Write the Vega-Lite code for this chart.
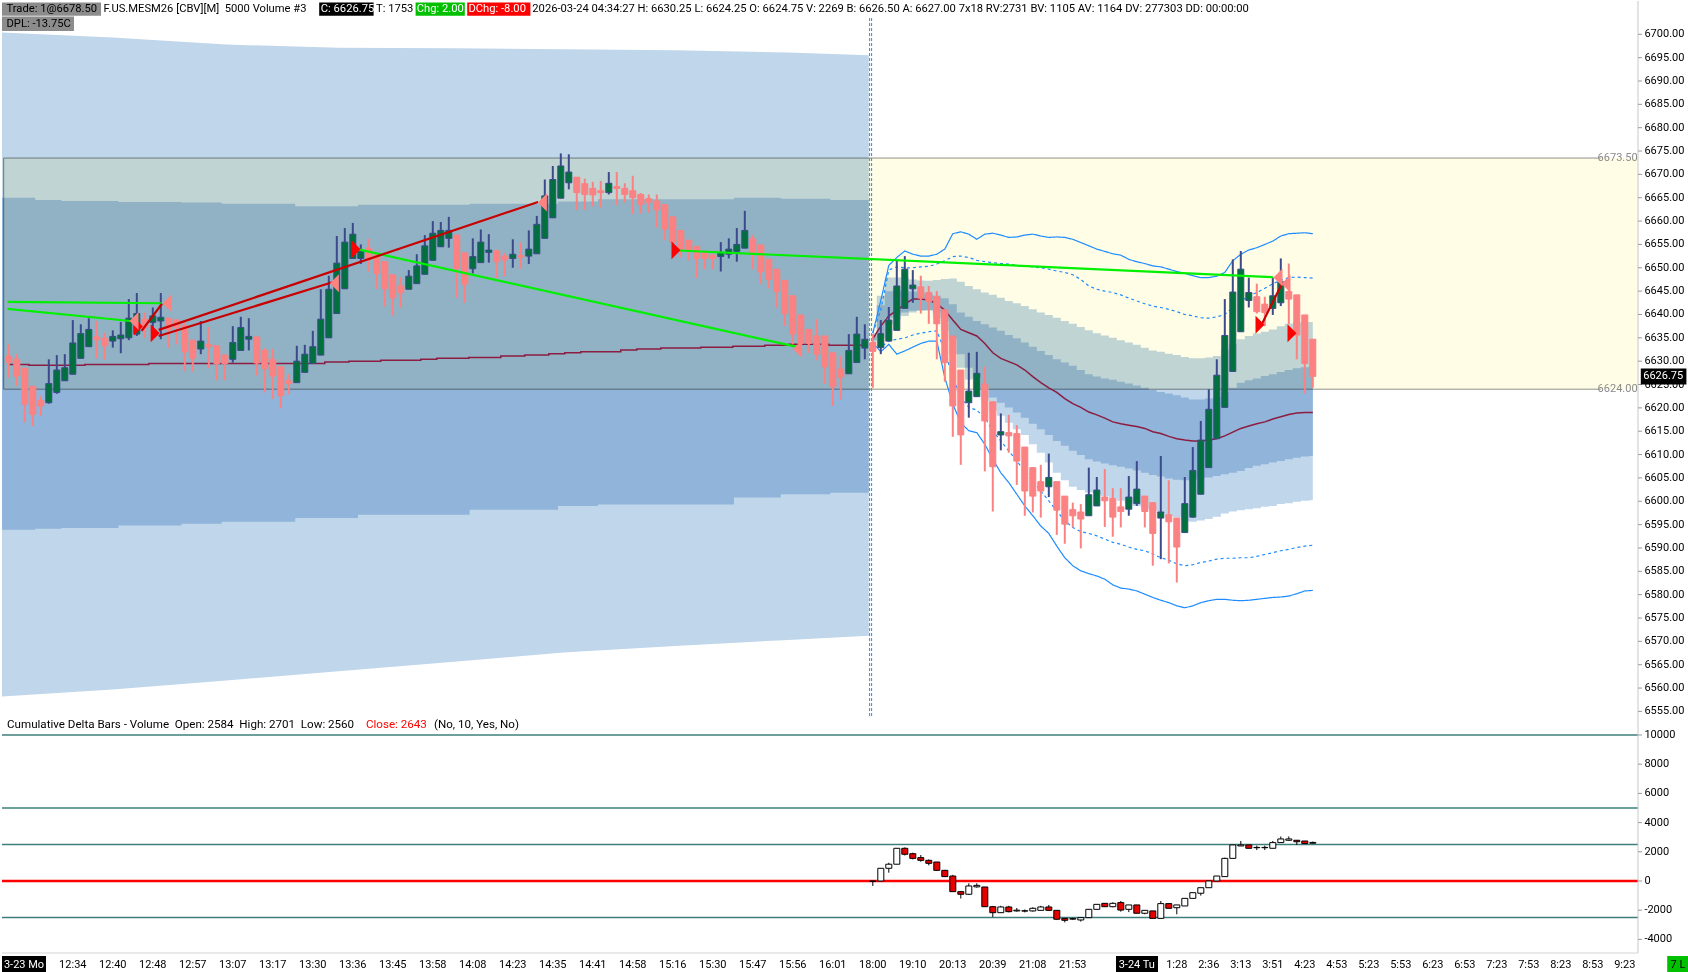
{
  "$schema": "https://vega.github.io/schema/vega-lite/v6.json",
  "background": "white",
  "padding": 0,
  "spacing": 0,
  "bounds": "flush",
  "config": {
    "view": {"stroke": null},
    "scale": {"continuousPadding": 0},
    "text": {"font": "Roboto", "fontSize": 11}
  },
  "datasets": {
    "bars": [
      {"i":0,"o":6631.1,"h":6633.6,"l":6626.5,"c":6629.7,"vw":6629.3},
      {"i":1,"o":6630.4,"h":6631.5,"l":6624.7,"c":6626.8,"vw":6629.3},
      {"i":2,"o":6628.5,"h":6628.6,"l":6616.9,"c":6620.8,"vw":6629.3},
      {"i":3,"o":6624.6,"h":6624.7,"l":6616.1,"c":6618.6,"vw":6629.1},
      {"i":4,"o":6621.6,"h":6622.6,"l":6618.3,"c":6620.4,"vw":6629.1},
      {"i":5,"o":6621.1,"h":6630.4,"l":6620.9,"c":6625.2,"vw":6629.1},
      {"i":6,"o":6623.3,"h":6631.3,"l":6623.0,"c":6628.1,"vw":6629.1},
      {"i":7,"o":6625.8,"h":6631.5,"l":6625.8,"c":6628.6,"vw":6629.1},
      {"i":8,"o":6627.2,"h":6638.8,"l":6627.2,"c":6633.9,"vw":6629.1},
      {"i":9,"o":6630.6,"h":6637.9,"l":6630.6,"c":6635.9,"vw":6629.1},
      {"i":10,"o":6633.1,"h":6639.2,"l":6633.1,"c":6636.8,"vw":6629.3},
      {"i":11,"o":6635.2,"h":6638.6,"l":6630.6,"c":6634.6,"vw":6629.3},
      {"i":12,"o":6634.9,"h":6636.1,"l":6630.3,"c":6633.3,"vw":6629.3},
      {"i":13,"o":6634.3,"h":6636.6,"l":6632.9,"c":6635.3,"vw":6629.3},
      {"i":14,"o":6634.8,"h":6638.4,"l":6631.7,"c":6635.6,"vw":6629.3},
      {"i":15,"o":6635.0,"h":6643.3,"l":6634.5,"c":6639.2,"vw":6629.3},
      {"i":16,"o":6635.8,"h":6644.6,"l":6635.4,"c":6640.2,"vw":6629.3},
      {"i":17,"o":6639.0,"h":6640.4,"l":6635.0,"c":6637.2,"vw":6629.3},
      {"i":18,"o":6638.3,"h":6641.5,"l":6635.8,"c":6639.7,"vw":6629.5},
      {"i":19,"o":6638.6,"h":6644.6,"l":6634.7,"c":6639.4,"vw":6629.5},
      {"i":20,"o":6639.2,"h":6639.3,"l":6632.9,"c":6636.8,"vw":6629.5},
      {"i":21,"o":6638.8,"h":6639.0,"l":6633.6,"c":6637.2,"vw":6629.5},
      {"i":22,"o":6637.6,"h":6638.6,"l":6627.9,"c":6632.0,"vw":6629.5},
      {"i":23,"o":6634.5,"h":6634.5,"l":6627.8,"c":6630.6,"vw":6629.5},
      {"i":24,"o":6632.6,"h":6638.6,"l":6631.5,"c":6634.3,"vw":6629.5},
      {"i":25,"o":6633.6,"h":6637.3,"l":6628.5,"c":6633.1,"vw":6629.5},
      {"i":26,"o":6633.3,"h":6633.3,"l":6625.9,"c":6629.5,"vw":6629.5},
      {"i":27,"o":6631.3,"h":6631.5,"l":6625.9,"c":6629.5,"vw":6629.5},
      {"i":28,"o":6630.4,"h":6637.5,"l":6629.7,"c":6634.0,"vw":6629.5},
      {"i":29,"o":6632.3,"h":6639.5,"l":6632.3,"c":6637.2,"vw":6629.5},
      {"i":30,"o":6634.7,"h":6639.2,"l":6632.3,"c":6635.3,"vw":6629.5},
      {"i":31,"o":6635.2,"h":6635.2,"l":6626.9,"c":6629.6,"vw":6629.5},
      {"i":32,"o":6632.3,"h":6632.8,"l":6623.3,"c":6628.4,"vw":6629.5},
      {"i":33,"o":6630.4,"h":6632.6,"l":6621.9,"c":6626.8,"vw":6629.5},
      {"i":34,"o":6628.8,"h":6628.8,"l":6619.9,"c":6622.6,"vw":6629.5},
      {"i":35,"o":6625.8,"h":6627.2,"l":6622.9,"c":6625.2,"vw":6629.5},
      {"i":36,"o":6625.4,"h":6633.3,"l":6625.4,"c":6630.0,"vw":6629.5},
      {"i":37,"o":6627.6,"h":6633.5,"l":6627.6,"c":6631.5,"vw":6629.5},
      {"i":38,"o":6629.5,"h":6636.5,"l":6629.5,"c":6633.1,"vw":6629.5},
      {"i":39,"o":6631.3,"h":6645.4,"l":6631.3,"c":6639.0,"vw":6629.5},
      {"i":40,"o":6635.0,"h":6648.3,"l":6635.0,"c":6645.4,"vw":6629.8},
      {"i":41,"o":6640.2,"h":6656.8,"l":6640.2,"c":6651.0,"vw":6629.8},
      {"i":42,"o":6645.5,"h":6658.5,"l":6645.5,"c":6655.5,"vw":6629.8},
      {"i":43,"o":6652.0,"h":6659.6,"l":6652.0,"c":6657.2,"vw":6630.0},
      {"i":44,"o":6652.0,"h":6655.0,"l":6650.8,"c":6653.5,"vw":6630.0},
      {"i":45,"o":6654.2,"h":6656.2,"l":6649.2,"c":6651.8,"vw":6630.0},
      {"i":46,"o":6652.9,"h":6652.9,"l":6645.5,"c":6648.8,"vw":6630.0},
      {"i":47,"o":6651.3,"h":6651.3,"l":6641.7,"c":6645.5,"vw":6630.2},
      {"i":48,"o":6648.5,"h":6648.5,"l":6639.8,"c":6643.6,"vw":6630.2},
      {"i":49,"o":6646.1,"h":6648.0,"l":6641.5,"c":6644.7,"vw":6630.2},
      {"i":50,"o":6645.4,"h":6649.5,"l":6645.4,"c":6648.2,"vw":6630.2},
      {"i":51,"o":6646.6,"h":6652.9,"l":6646.6,"c":6650.4,"vw":6630.2},
      {"i":52,"o":6648.6,"h":6657.0,"l":6648.6,"c":6654.7,"vw":6630.4},
      {"i":53,"o":6651.6,"h":6660.0,"l":6651.6,"c":6657.4,"vw":6630.4},
      {"i":54,"o":6654.5,"h":6659.8,"l":6654.5,"c":6658.0,"vw":6630.6},
      {"i":55,"o":6656.3,"h":6660.9,"l":6654.3,"c":6658.0,"vw":6630.6},
      {"i":56,"o":6657.0,"h":6657.0,"l":6643.6,"c":6649.8,"vw":6630.6},
      {"i":57,"o":6653.2,"h":6653.2,"l":6642.5,"c":6646.5,"vw":6630.6},
      {"i":58,"o":6649.8,"h":6656.3,"l":6648.8,"c":6652.4,"vw":6630.8},
      {"i":59,"o":6651.1,"h":6658.2,"l":6651.1,"c":6655.5,"vw":6630.8},
      {"i":60,"o":6653.3,"h":6657.2,"l":6651.1,"c":6653.8,"vw":6630.8},
      {"i":61,"o":6653.6,"h":6653.9,"l":6647.8,"c":6651.3,"vw":6630.8},
      {"i":62,"o":6652.5,"h":6653.2,"l":6648.2,"c":6651.7,"vw":6631.1},
      {"i":63,"o":6652.0,"h":6656.1,"l":6650.0,"c":6652.9,"vw":6631.1},
      {"i":64,"o":6652.6,"h":6655.4,"l":6649.8,"c":6652.3,"vw":6631.1},
      {"i":65,"o":6652.5,"h":6658.0,"l":6650.8,"c":6654.0,"vw":6631.3},
      {"i":66,"o":6653.0,"h":6661.1,"l":6653.0,"c":6659.3,"vw":6631.3},
      {"i":67,"o":6656.3,"h":6668.9,"l":6656.3,"c":6665.4,"vw":6631.3},
      {"i":68,"o":6660.7,"h":6671.8,"l":6660.7,"c":6668.9,"vw":6631.6},
      {"i":69,"o":6664.9,"h":6674.5,"l":6664.9,"c":6671.8,"vw":6631.6},
      {"i":70,"o":6668.2,"h":6674.3,"l":6666.8,"c":6670.5,"vw":6631.8},
      {"i":71,"o":6669.4,"h":6669.4,"l":6662.4,"c":6666.1,"vw":6631.8},
      {"i":72,"o":6668.0,"h":6669.1,"l":6662.4,"c":6665.7,"vw":6632.0},
      {"i":73,"o":6667.0,"h":6668.4,"l":6663.1,"c":6665.6,"vw":6632.0},
      {"i":74,"o":6666.5,"h":6668.6,"l":6662.9,"c":6666.1,"vw":6632.0},
      {"i":75,"o":6666.1,"h":6670.5,"l":6665.7,"c":6668.1,"vw":6632.0},
      {"i":76,"o":6667.4,"h":6670.5,"l":6663.4,"c":6667.0,"vw":6632.0},
      {"i":77,"o":6667.0,"h":6668.1,"l":6664.0,"c":6665.7,"vw":6632.4},
      {"i":78,"o":6666.5,"h":6669.7,"l":6661.5,"c":6665.0,"vw":6632.4},
      {"i":79,"o":6665.7,"h":6666.0,"l":6661.6,"c":6663.6,"vw":6632.6},
      {"i":80,"o":6664.8,"h":6665.7,"l":6661.8,"c":6664.0,"vw":6632.6},
      {"i":81,"o":6664.3,"h":6665.7,"l":6658.6,"c":6662.4,"vw":6632.6},
      {"i":82,"o":6663.5,"h":6663.5,"l":6655.9,"c":6658.3,"vw":6632.8},
      {"i":83,"o":6660.9,"h":6660.9,"l":6652.5,"c":6655.4,"vw":6632.8},
      {"i":84,"o":6658.0,"h":6658.0,"l":6652.2,"c":6653.7,"vw":6632.8},
      {"i":85,"o":6655.9,"h":6655.9,"l":6651.6,"c":6653.7,"vw":6632.8},
      {"i":86,"o":6654.6,"h":6654.6,"l":6647.8,"c":6652.0,"vw":6632.8},
      {"i":87,"o":6653.2,"h":6653.2,"l":6649.7,"c":6652.0,"vw":6633.0},
      {"i":88,"o":6652.7,"h":6653.0,"l":6649.7,"c":6652.0,"vw":6633.0},
      {"i":89,"o":6652.4,"h":6655.5,"l":6649.2,"c":6653.2,"vw":6633.0},
      {"i":90,"o":6652.9,"h":6656.3,"l":6652.0,"c":6654.0,"vw":6633.0},
      {"i":91,"o":6653.5,"h":6658.5,"l":6651.3,"c":6655.0,"vw":6633.2},
      {"i":92,"o":6654.2,"h":6662.2,"l":6654.2,"c":6658.0,"vw":6633.2},
      {"i":93,"o":6656.2,"h":6657.0,"l":6649.7,"c":6653.2,"vw":6633.2},
      {"i":94,"o":6654.9,"h":6654.9,"l":6646.6,"c":6649.1,"vw":6633.2},
      {"i":95,"o":6651.8,"h":6651.8,"l":6645.6,"c":6647.5,"vw":6633.4},
      {"i":96,"o":6649.7,"h":6649.7,"l":6641.5,"c":6644.9,"vw":6633.4},
      {"i":97,"o":6647.3,"h":6647.3,"l":6637.5,"c":6640.2,"vw":6633.4},
      {"i":98,"o":6644.0,"h":6644.0,"l":6633.6,"c":6635.8,"vw":6633.6},
      {"i":99,"o":6639.9,"h":6639.9,"l":6632.2,"c":6633.8,"vw":6633.6},
      {"i":100,"o":6636.8,"h":6636.8,"l":6631.8,"c":6633.8,"vw":6633.6},
      {"i":101,"o":6635.4,"h":6639.0,"l":6630.2,"c":6631.5,"vw":6633.6},
      {"i":102,"o":6635.4,"h":6635.4,"l":6625.1,"c":6628.8,"vw":6633.6},
      {"i":103,"o":6631.8,"h":6631.8,"l":6620.4,"c":6624.5,"vw":6633.4},
      {"i":104,"o":6628.3,"h":6631.1,"l":6621.8,"c":6626.6,"vw":6633.4},
      {"i":105,"o":6627.3,"h":6635.8,"l":6627.3,"c":6632.3,"vw":6633.4},
      {"i":106,"o":6629.7,"h":6639.5,"l":6629.7,"c":6635.8,"vw":6633.4},
      {"i":107,"o":6632.8,"h":6637.9,"l":6630.4,"c":6634.7,"vw":6633.4},
      {"i":108,"o":6634.0,"h":6635.8,"l":6624.3,"c":6632.1,"vw":6634.8,"u2":6636,"u1":6636,"l1":6634,"l2":6634,"lbu":6636,"lbl":6634,"mbu":6635.5,"mbl":6634.5,"dop":0,"dhi":0,"dlo":-340,"dcl":-30},
      {"i":109,"o":6632.9,"h":6638.8,"l":6631.5,"c":6635.9,"vw":6637.5,"u2":6643,"u1":6641,"l1":6633,"l2":6632,"lbu":6644,"lbl":6635,"mbu":6642,"mbl":6636,"dop":0,"dhi":870,"dlo":0,"dcl":870},
      {"i":110,"o":6634.3,"h":6641.6,"l":6634.3,"c":6638.8,"vw":6639.7,"u2":6650.5,"u1":6649.5,"l1":6634.3,"l2":6633.6,"lbu":6647.9,"lbl":6637.9,"mbu":6645.0,"mbl":6639.3,"dop":870,"dhi":1250,"dlo":570,"dcl":1150},
      {"i":111,"o":6636.6,"h":6651.5,"l":6636.6,"c":6646.1,"vw":6640.9,"u2":6652.2,"u1":6650.2,"l1":6634.7,"l2":6631.5,"lbu":6647.9,"lbl":6639.0,"mbu":6645.2,"mbl":6640.0,"dop":1150,"dhi":2240,"dlo":1150,"dcl":2240},
      {"i":112,"o":6641.3,"h":6652.5,"l":6641.3,"c":6649.7,"vw":6642.2,"u2":6653.6,"u1":6650.0,"l1":6635.0,"l2":6632.2,"lbu":6647.9,"lbl":6639.7,"mbu":6645.0,"mbl":6640.4,"dop":2240,"dhi":2300,"dlo":1750,"dcl":1830},
      {"i":113,"o":6645.5,"h":6649.5,"l":6642.5,"c":6646.3,"vw":6643.3,"u2":6652.9,"u1":6650.0,"l1":6635.6,"l2":6633.0,"lbu":6647.5,"lbl":6640.4,"mbu":6644.9,"mbl":6640.8,"dop":1870,"dhi":1940,"dlo":1480,"dcl":1550},
      {"i":114,"o":6645.9,"h":6648.3,"l":6640.2,"c":6643.5,"vw":6643.3,"u2":6652.5,"u1":6650.2,"l1":6636.0,"l2":6633.8,"lbu":6647.3,"lbl":6640.8,"mbu":6644.7,"mbl":6640.9,"dop":1600,"dhi":1780,"dlo":1320,"dcl":1415},
      {"i":115,"o":6644.7,"h":6646.1,"l":6638.0,"c":6642.8,"vw":6643.1,"u2":6652.5,"u1":6650.3,"l1":6636.3,"l2":6634.3,"lbu":6647.2,"lbl":6640.9,"mbu":6644.3,"mbl":6640.9,"dop":1415,"dhi":1480,"dlo":1070,"dcl":1210},
      {"i":116,"o":6643.8,"h":6645.0,"l":6630.4,"c":6638.0,"vw":6642.3,"u2":6652.9,"u1":6650.8,"l1":6636.5,"l2":6634.3,"lbu":6647.4,"lbl":6639.3,"mbu":6644.0,"mbl":6640.4,"dop":1300,"dhi":1300,"dlo":680,"dcl":730},
      {"i":117,"o":6641.0,"h":6641.0,"l":6625.6,"c":6629.7,"vw":6640.9,"u2":6654.0,"u1":6651.5,"l1":6632.2,"l2":6626.5,"lbu":6647.6,"lbl":6636.5,"mbu":6643.5,"mbl":6638.6,"dop":730,"dhi":760,"dlo":270,"dcl":300},
      {"i":118,"o":6635.4,"h":6635.4,"l":6613.8,"c":6620.4,"vw":6638.8,"u2":6657.3,"u1":6652.4,"l1":6626.5,"l2":6620.8,"lbu":6647.7,"lbl":6631.5,"mbu":6642.2,"mbl":6634.7,"dop":340,"dhi":420,"dlo":-730,"dcl":-730},
      {"i":119,"o":6628.1,"h":6628.1,"l":6607.8,"c":6614.2,"vw":6636.8,"u2":6657.7,"u1":6652.5,"l1":6622.2,"l2":6616.8,"lbu":6647.0,"lbl":6628.6,"mbu":6640.4,"mbl":6631.5,"dop":-730,"dhi":-680,"dlo":-1200,"dcl":-910},
      {"i":120,"o":6621.1,"h":6631.8,"l":6617.9,"c":6623.6,"vw":6636.1,"u2":6657.2,"u1":6652.2,"l1":6620.1,"l2":6615.1,"lbu":6646.1,"lbl":6626.1,"mbu":6639.5,"mbl":6628.6,"dop":-910,"dhi":-160,"dlo":-960,"dcl":-340},
      {"i":121,"o":6622.4,"h":6632.0,"l":6622.4,"c":6627.4,"vw":6635.4,"u2":6656.1,"u1":6651.6,"l1":6619.5,"l2":6614.7,"lbu":6645.4,"lbl":6624.0,"mbu":6638.6,"mbl":6626.5,"dop":-400,"dhi":-160,"dlo":-460,"dcl":-300},
      {"i":122,"o":6625.1,"h":6628.8,"l":6606.4,"c":6617.2,"vw":6633.8,"u2":6657.2,"u1":6651.3,"l1":6617.9,"l2":6612.2,"lbu":6644.7,"lbl":6621.5,"mbu":6637.9,"mbl":6624.3,"dop":-410,"dhi":-410,"dlo":-1760,"dcl":-1760},
      {"i":123,"o":6621.3,"h":6621.3,"l":6597.8,"c":6607.4,"vw":6631.8,"u2":6657.4,"u1":6651.1,"l1":6615.1,"l2":6609.0,"lbu":6644.2,"lbl":6619.4,"mbu":6637.2,"mbl":6622.2,"dop":-1760,"dhi":-1710,"dlo":-2470,"dcl":-2170},
      {"i":124,"o":6614.2,"h":6618.8,"l":6610.9,"c":6614.9,"vw":6630.6,"u2":6657.0,"u1":6650.9,"l1":6612.9,"l2":6606.1,"lbu":6643.6,"lbl":6618.3,"mbu":6636.5,"mbl":6621.1,"dop":-2170,"dhi":-1700,"dlo":-2170,"dcl":-1780},
      {"i":125,"o":6614.7,"h":6618.5,"l":6610.4,"c":6614.0,"vw":6629.9,"u2":6656.5,"u1":6650.8,"l1":6610.8,"l2":6604.0,"lbu":6642.9,"lbl":6616.8,"mbu":6635.6,"mbl":6620.1,"dop":-1780,"dhi":-1700,"dlo":-2150,"dcl":-2100},
      {"i":126,"o":6614.5,"h":6616.3,"l":6603.5,"c":6608.6,"vw":6629.2,"u2":6656.6,"u1":6650.5,"l1":6608.6,"l2":6601.5,"lbu":6642.4,"lbl":6615.4,"mbu":6634.9,"mbl":6619.0,"dop":-2050,"dhi":-1850,"dlo":-2100,"dcl":-2000},
      {"i":127,"o":6611.6,"h":6611.6,"l":6596.9,"c":6602.2,"vw":6628.1,"u2":6657.0,"u1":6650.4,"l1":6606.5,"l2":6599.0,"lbu":6641.8,"lbl":6614.2,"mbu":6634.0,"mbl":6617.9,"dop":-2060,"dhi":-1950,"dlo":-2150,"dcl":-2040},
      {"i":128,"o":6607.2,"h":6607.2,"l":6597.6,"c":6601.1,"vw":6626.7,"u2":6657.2,"u1":6650.2,"l1":6604.4,"l2":6596.9,"lbu":6641.1,"lbl":6612.2,"mbu":6633.1,"mbl":6616.6,"dop":-2050,"dhi":-1800,"dlo":-2100,"dcl":-1870},
      {"i":129,"o":6604.2,"h":6607.8,"l":6596.5,"c":6602.2,"vw":6625.4,"u2":6656.8,"u1":6650.0,"l1":6602.2,"l2":6594.7,"lbu":6640.4,"lbl":6610.4,"mbu":6632.2,"mbl":6615.4,"dop":-2010,"dhi":-1700,"dlo":-2010,"dcl":-1780},
      {"i":130,"o":6603.1,"h":6610.2,"l":6600.9,"c":6605.1,"vw":6624.3,"u2":6656.5,"u1":6649.7,"l1":6600.1,"l2":6593.1,"lbu":6639.9,"lbl":6608.3,"mbu":6631.3,"mbl":6614.2,"dop":-1780,"dhi":-1640,"dlo":-2050,"dcl":-2010},
      {"i":131,"o":6604.2,"h":6604.2,"l":6592.8,"c":6598.1,"vw":6623.3,"u2":6656.6,"u1":6649.3,"l1":6597.9,"l2":6590.4,"lbu":6639.3,"lbl":6606.1,"mbu":6630.4,"mbl":6612.9,"dop":-2010,"dhi":-2010,"dlo":-2650,"dcl":-2620},
      {"i":132,"o":6601.1,"h":6601.1,"l":6590.9,"c":6595.1,"vw":6622.0,"u2":6656.5,"u1":6649.0,"l1":6595.8,"l2":6587.9,"lbu":6638.6,"lbl":6604.5,"mbu":6629.7,"mbl":6611.9,"dop":-2560,"dhi":-2560,"dlo":-2830,"dcl":-2690},
      {"i":133,"o":6598.2,"h":6599.7,"l":6594.4,"c":6596.9,"vw":6620.9,"u2":6656.1,"u1":6648.5,"l1":6594.4,"l2":6586.2,"lbu":6638.0,"lbl":6603.1,"mbu":6629.0,"mbl":6610.8,"dop":-2580,"dhi":-2520,"dlo":-2650,"dcl":-2610},
      {"i":134,"o":6597.7,"h":6599.4,"l":6589.9,"c":6596.2,"vw":6620.1,"u2":6655.4,"u1":6647.5,"l1":6593.5,"l2":6585.1,"lbu":6637.3,"lbl":6602.4,"mbu":6628.1,"mbl":6609.9,"dop":-2670,"dhi":-2510,"dlo":-2780,"dcl":-2510},
      {"i":135,"o":6596.9,"h":6607.2,"l":6596.9,"c":6601.4,"vw":6619.1,"u2":6654.7,"u1":6646.1,"l1":6593.1,"l2":6584.5,"lbu":6636.6,"lbl":6601.9,"mbu":6627.2,"mbl":6609.0,"dop":-2510,"dhi":-1940,"dlo":-2510,"dcl":-1940},
      {"i":136,"o":6599.0,"h":6605.2,"l":6599.0,"c":6602.4,"vw":6618.5,"u2":6654.0,"u1":6645.4,"l1":6592.6,"l2":6584.0,"lbu":6636.0,"lbl":6601.5,"mbu":6626.7,"mbl":6608.5,"dop":-1940,"dhi":-1600,"dlo":-1940,"dcl":-1600},
      {"i":137,"o":6600.9,"h":6606.9,"l":6594.5,"c":6600.1,"vw":6617.8,"u2":6653.5,"u1":6645.0,"l1":6591.9,"l2":6583.3,"lbu":6635.5,"lbl":6601.1,"mbu":6626.3,"mbl":6608.1,"dop":-1530,"dhi":-1530,"dlo":-1780,"dcl":-1760},
      {"i":138,"o":6600.6,"h":6602.8,"l":6592.4,"c":6596.6,"vw":6617.0,"u2":6653.0,"u1":6644.7,"l1":6591.2,"l2":6582.1,"lbu":6635.0,"lbl":6600.6,"mbu":6626.0,"mbl":6607.7,"dop":-1760,"dhi":-1460,"dlo":-1800,"dcl":-1530},
      {"i":139,"o":6598.8,"h":6602.8,"l":6594.4,"c":6597.8,"vw":6616.6,"u2":6652.7,"u1":6644.2,"l1":6590.8,"l2":6581.4,"lbu":6634.5,"lbl":6600.1,"mbu":6625.6,"mbl":6607.4,"dop":-1480,"dhi":-1370,"dlo":-2100,"dcl":-1990},
      {"i":140,"o":6598.3,"h":6605.4,"l":6596.9,"c":6600.9,"vw":6616.3,"u2":6651.8,"u1":6643.5,"l1":6590.2,"l2":6581.2,"lbu":6634.0,"lbl":6599.5,"mbu":6625.2,"mbl":6607.0,"dop":-1940,"dhi":-1640,"dlo":-2130,"dcl":-1640},
      {"i":141,"o":6599.5,"h":6608.6,"l":6599.0,"c":6602.6,"vw":6616.0,"u2":6651.3,"u1":6642.9,"l1":6589.7,"l2":6580.8,"lbu":6633.5,"lbl":6599.0,"mbu":6624.8,"mbl":6606.6,"dop":-1640,"dhi":-1640,"dlo":-2210,"dcl":-2210},
      {"i":142,"o":6601.1,"h":6601.1,"l":6594.4,"c":6597.8,"vw":6615.6,"u2":6650.9,"u1":6642.3,"l1":6589.4,"l2":6580.1,"lbu":6632.9,"lbl":6598.4,"mbu":6624.3,"mbl":6606.1,"dop":-2210,"dhi":-2010,"dlo":-2280,"dcl":-2010},
      {"i":143,"o":6599.7,"h":6599.7,"l":6586.2,"c":6593.1,"vw":6614.9,"u2":6650.4,"u1":6641.8,"l1":6588.7,"l2":6579.4,"lbu":6632.3,"lbl":6597.9,"mbu":6623.8,"mbl":6605.6,"dop":-2050,"dhi":-2050,"dlo":-2560,"dcl":-2560},
      {"i":144,"o":6596.4,"h":6609.7,"l":6587.6,"c":6597.7,"vw":6614.5,"u2":6650.2,"u1":6641.5,"l1":6587.9,"l2":6578.8,"lbu":6632.0,"lbl":6597.5,"mbu":6623.4,"mbl":6605.3,"dop":-2560,"dhi":-1370,"dlo":-2560,"dcl":-1550},
      {"i":145,"o":6597.1,"h":6604.5,"l":6586.7,"c":6595.6,"vw":6613.9,"u2":6649.7,"u1":6641.1,"l1":6587.4,"l2":6578.3,"lbu":6631.6,"lbl":6596.9,"mbu":6623.1,"mbl":6604.9,"dop":-1550,"dhi":-1550,"dlo":-1870,"dcl":-1870},
      {"i":146,"o":6596.4,"h":6596.4,"l":6582.6,"c":6590.2,"vw":6613.4,"u2":6649.2,"u1":6640.6,"l1":6586.6,"l2":6577.6,"lbu":6631.3,"lbl":6596.5,"mbu":6622.7,"mbl":6604.6,"dop":-1830,"dhi":-1640,"dlo":-2280,"dcl":-1640},
      {"i":147,"o":6593.3,"h":6605.2,"l":6593.3,"c":6599.5,"vw":6613.1,"u2":6648.8,"u1":6640.0,"l1":6586.2,"l2":6577.2,"lbu":6630.9,"lbl":6595.8,"mbu":6622.2,"mbl":6604.5,"dop":-1710,"dhi":-1190,"dlo":-1710,"dcl":-1190},
      {"i":148,"o":6596.6,"h":6611.6,"l":6596.5,"c":6606.6,"vw":6612.9,"u2":6648.3,"u1":6639.7,"l1":6586.4,"l2":6577.6,"lbu":6630.6,"lbl":6595.6,"mbu":6621.8,"mbl":6604.5,"dop":-1190,"dhi":-800,"dlo":-1190,"dcl":-800},
      {"i":149,"o":6601.5,"h":6617.2,"l":6601.5,"c":6613.1,"vw":6612.9,"u2":6647.9,"u1":6639.3,"l1":6586.9,"l2":6578.3,"lbu":6630.6,"lbl":6595.9,"mbu":6621.8,"mbl":6604.8,"dop":-840,"dhi":-460,"dlo":-1000,"dcl":-460},
      {"i":150,"o":6607.2,"h":6624.0,"l":6607.2,"c":6619.7,"vw":6613.1,"u2":6647.9,"u1":6639.2,"l1":6587.2,"l2":6578.7,"lbu":6630.8,"lbl":6596.2,"mbu":6622.0,"mbl":6605.1,"dop":-460,"dhi":0,"dlo":-460,"dcl":0},
      {"i":151,"o":6613.4,"h":6630.4,"l":6613.4,"c":6627.0,"vw":6613.4,"u2":6648.2,"u1":6639.5,"l1":6587.6,"l2":6579.0,"lbu":6631.1,"lbl":6596.7,"mbu":6622.3,"mbl":6605.4,"dop":0,"dhi":340,"dlo":0,"dcl":340},
      {"i":152,"o":6620.1,"h":6643.3,"l":6620.1,"c":6635.5,"vw":6614.0,"u2":6649.0,"u1":6640.0,"l1":6587.8,"l2":6579.0,"lbu":6632.5,"lbl":6597.4,"mbu":6623.3,"mbl":6605.8,"dop":300,"dhi":1600,"dlo":300,"dcl":1550},
      {"i":153,"o":6627.8,"h":6651.8,"l":6627.8,"c":6644.8,"vw":6614.8,"u2":6651.5,"u1":6641.5,"l1":6587.8,"l2":6578.8,"lbu":6633.6,"lbl":6597.8,"mbu":6624.3,"mbl":6606.1,"dop":1550,"dhi":2470,"dlo":1550,"dcl":2470},
      {"i":154,"o":6636.3,"h":6653.6,"l":6636.3,"c":6649.7,"vw":6615.6,"u2":6652.9,"u1":6642.8,"l1":6587.9,"l2":6578.7,"lbu":6634.7,"lbl":6598.1,"mbu":6625.4,"mbl":6606.5,"dop":2400,"dhi":2740,"dlo":2400,"dcl":2470},
      {"i":155,"o":6643.0,"h":6647.9,"l":6641.5,"c":6644.7,"vw":6616.1,"u2":6653.8,"u1":6644.0,"l1":6587.9,"l2":6578.8,"lbu":6635.4,"lbl":6598.3,"mbu":6625.9,"mbl":6607.1,"dop":2470,"dhi":2470,"dlo":2240,"dcl":2240},
      {"i":156,"o":6643.8,"h":6646.6,"l":6640.2,"c":6640.6,"vw":6616.6,"u2":6654.3,"u1":6644.7,"l1":6588.2,"l2":6579.0,"lbu":6635.9,"lbl":6598.5,"mbu":6626.3,"mbl":6607.6,"dop":2300,"dhi":2420,"dlo":2120,"dcl":2280},
      {"i":157,"o":6642.2,"h":6643.8,"l":6637.5,"c":6640.4,"vw":6617.0,"u2":6655.0,"u1":6645.6,"l1":6588.6,"l2":6579.2,"lbu":6636.3,"lbl":6598.8,"mbu":6626.8,"mbl":6607.9,"dop":2280,"dhi":2420,"dlo":2120,"dcl":2300},
      {"i":158,"o":6641.3,"h":6647.9,"l":6639.9,"c":6644.0,"vw":6617.6,"u2":6655.7,"u1":6646.6,"l1":6589.0,"l2":6579.4,"lbu":6636.8,"lbl":6599.0,"mbu":6627.2,"mbl":6608.3,"dop":2240,"dhi":2740,"dlo":2240,"dcl":2630},
      {"i":159,"o":6642.5,"h":6652.0,"l":6641.8,"c":6647.0,"vw":6618.1,"u2":6656.8,"u1":6647.3,"l1":6589.4,"l2":6579.5,"lbu":6637.5,"lbl":6599.4,"mbu":6627.7,"mbl":6608.6,"dop":2630,"dhi":3050,"dlo":2630,"dcl":2880},
      {"i":160,"o":6644.9,"h":6650.9,"l":6637.9,"c":6643.3,"vw":6618.6,"u2":6657.3,"u1":6647.9,"l1":6589.7,"l2":6579.7,"lbu":6638.0,"lbl":6599.6,"mbu":6628.1,"mbl":6609.0,"dop":2790,"dhi":3050,"dlo":2740,"dcl":2880},
      {"i":161,"o":6644.2,"h":6644.2,"l":6630.4,"c":6635.6,"vw":6618.9,"u2":6657.4,"u1":6648.0,"l1":6590.1,"l2":6580.2,"lbu":6638.3,"lbl":6599.9,"mbu":6628.5,"mbl":6609.3,"dop":2790,"dhi":2790,"dlo":2470,"dcl":2690},
      {"i":162,"o":6639.9,"h":6639.9,"l":6623.1,"c":6629.5,"vw":6619.0,"u2":6657.5,"u1":6647.9,"l1":6590.4,"l2":6580.8,"lbu":6638.4,"lbl":6600.1,"mbu":6628.7,"mbl":6609.6,"dop":2740,"dhi":2740,"dlo":2560,"dcl":2560},
      {"i":163,"o":6634.7,"h":6634.7,"l":6624.3,"c":6626.75,"vw":6619.0,"u2":6657.3,"u1":6647.8,"l1":6590.6,"l2":6580.9,"lbu":6638.4,"lbl":6600.2,"mbu":6628.8,"mbl":6609.7,"dop":2584,"dhi":2701,"dlo":2560,"dcl":2643}
    ],
    "lband": [
      {"i":-0.85,"ou":6700.4,"ol":6558.2},{"i":13,"ou":6699.3,"ol":6559.7},{"i":27.2,"ou":6697.8,"ol":6561.6},
      {"i":41.2,"ou":6697.1,"ol":6563.6},{"i":55.3,"ou":6697.0,"ol":6565.6},{"i":69.3,"ou":6696.8,"ol":6567.6},
      {"i":83.3,"ou":6696.6,"ol":6569.0},{"i":97.4,"ou":6696.1,"ol":6570.3},{"i":107.5,"ou":6695.5,"ol":6571.2}
    ],
    "iband": [
      {"i":-0.85,"iu":6665.0,"il":6593.9},{"i":3.3,"iu":6664.5,"il":6594.1},{"i":6.6,"iu":6664.3,"il":6594.3},
      {"i":13.7,"iu":6664.1,"il":6594.8},{"i":21.6,"iu":6664.0,"il":6595.2},{"i":26.6,"iu":6663.7,"il":6595.6},
      {"i":35.8,"iu":6663.2,"il":6596.4},{"i":43.65,"iu":6663.5,"il":6597.1},{"i":57.6,"iu":6663.7,"il":6598.2},
      {"i":68.65,"iu":6664.2,"il":6599.0},{"i":73.65,"iu":6664.7,"il":6599.3},{"i":90.65,"iu":6665.0,"il":6600.8},
      {"i":96.5,"iu":6664.8,"il":6601.5},{"i":102.7,"iu":6664.5,"il":6601.8},{"i":107.5,"iu":6664.5,"il":6602.1}
    ],
    "seg": [
      {"id":"g1","type":"g","i":-0.15,"p":6642.7},{"id":"g1","type":"g","i":19.15,"p":6642.4},
      {"id":"g2","type":"g","i":-0.15,"p":6641.2},{"id":"g2","type":"g","i":15.2,"p":6638.6},
      {"id":"g3","type":"g","i":43.0,"p":6654.2},{"id":"g3","type":"g","i":98.65,"p":6633.0},
      {"id":"g4","type":"g","i":83.75,"p":6653.7},{"id":"g4","type":"g","i":158.0,"p":6648.0},
      {"id":"r1","type":"r","i":18.74,"p":6636.7},{"id":"r1","type":"r","i":66.15,"p":6664.1},
      {"id":"r2","type":"r","i":18.74,"p":6635.4},{"id":"r2","type":"r","i":40.65,"p":6647.0},
      {"id":"r3","type":"r","i":16.6,"p":6636.5},{"id":"r3","type":"r","i":19.15,"p":6642.3},
      {"id":"r4","type":"r","i":156.5,"p":6637.5},{"id":"r4","type":"r","i":159.2,"p":6646.8}
    ],
    "tri": [
      {"type":"s","i":16.2,"p":6637.4},{"type":"s","i":18.3,"p":6636.0},{"type":"s","i":43.4,"p":6653.96},
      {"type":"s","i":83.4,"p":6653.75},{"type":"s","i":156.4,"p":6637.8},{"type":"s","i":160.4,"p":6636.0},
      {"type":"l","i":15.65,"p":6638.6},{"type":"l","i":19.8,"p":6642.4},{"type":"l","i":40.7,"p":6646.7},
      {"type":"l","i":66.7,"p":6663.96},{"type":"l","i":98.6,"p":6632.6},{"type":"l","i":158.65,"p":6647.9},
      {"type":"l","i":159.65,"p":6646.6}
    ],
    "hdrbox": [
      {"k":"gray","x1":-0.85,"x2":11.53,"y1":6706.83,"y2":6703.98},
      {"k":"close","x1":38.8,"x2":45.6,"y1":6706.83,"y2":6703.98},
      {"k":"chg","x1":50.85,"x2":57.0,"y1":6706.83,"y2":6703.98},
      {"k":"dchg","x1":57.3,"x2":65.2,"y1":6706.83,"y2":6703.98},
      {"k":"gray","x1":-0.85,"x2":8.15,"y1":6703.81,"y2":6700.71}
    ],
    "hdrtext": [
      {"t":"Trade: 1@6678.50","k":"dark","x":-0.29,"y":6705.4},
      {"t":"F.US.MESM26 [CBV][M]\u00a0\u00a05000 Volume #3","k":"dark","x":11.85,"y":6705.4},
      {"t":"C: 6626.75","k":"light","x":39.0,"y":6705.4},
      {"t":"T: 1753","k":"dark","x":45.9,"y":6705.4},
      {"t":"Chg: 2.00","k":"light","x":51.0,"y":6705.4},
      {"t":"DChg: -8.00","k":"light","x":57.46,"y":6705.4},
      {"t":"2026-03-24 04:34:27 H: 6630.25 L: 6624.25 O: 6624.75 V: 2269 B: 6626.50 A: 6627.00 7x18 RV:2731 BV: 1105 AV: 1164 DV: 277303 DD: 00:00:00","k":"dark","x":65.44,"y":6705.4},
      {"t":"DPL: -13.75C","k":"dark","x":-0.29,"y":6702.2}
    ],
    "levels": [
      {"p":6673.5,"t":"6673.50"},{"p":6624,"t":"6624.00"}
    ],
    "pticks": [
      {"v":6555,"t":"6555.00"},{"v":6560,"t":"6560.00"},{"v":6565,"t":"6565.00"},{"v":6570,"t":"6570.00"},
      {"v":6575,"t":"6575.00"},{"v":6580,"t":"6580.00"},{"v":6585,"t":"6585.00"},{"v":6590,"t":"6590.00"},
      {"v":6595,"t":"6595.00"},{"v":6600,"t":"6600.00"},{"v":6605,"t":"6605.00"},{"v":6610,"t":"6610.00"},
      {"v":6615,"t":"6615.00"},{"v":6620,"t":"6620.00"},{"v":6625,"t":"6625.00"},{"v":6630,"t":"6630.00"},
      {"v":6635,"t":"6635.00"},{"v":6640,"t":"6640.00"},{"v":6645,"t":"6645.00"},{"v":6650,"t":"6650.00"},
      {"v":6655,"t":"6655.00"},{"v":6660,"t":"6660.00"},{"v":6665,"t":"6665.00"},{"v":6670,"t":"6670.00"},
      {"v":6675,"t":"6675.00"},{"v":6680,"t":"6680.00"},{"v":6685,"t":"6685.00"},{"v":6690,"t":"6690.00"},
      {"v":6695,"t":"6695.00"},{"v":6700,"t":"6700.00"}
    ],
    "dticks": [
      {"v":-4000,"t":"-4000"},{"v":-2000,"t":"-2000"},{"v":0,"t":"0"},{"v":2000,"t":"2000"},
      {"v":4000,"t":"4000"},{"v":6000,"t":"6000"},{"v":8000,"t":"8000"},{"v":10000,"t":"10000"}
    ],
    "hl": [
      {"v":10000,"t":"grid"},{"v":5000,"t":"grid"},{"v":2500,"t":"grid"},{"v":0,"t":"zero"},{"v":-2500,"t":"grid"}
    ],
    "lowhdr": [
      {"t":"Cumulative Delta Bars - Volume\u00a0\u00a0Open: 2584\u00a0\u00a0High: 2701\u00a0\u00a0Low: 2560","k":"plain","x":-0.22},
      {"t":"Close: 2643","k":"neg","x":44.65},
      {"t":"(No, 10, Yes, No)","k":"plain","x":53.15}
    ],
    "tlabels": [
      {"t":"3-23 Mo","i":1.9,"k":"date"},{"t":"12:34","i":8,"k":"plain"},{"t":"12:40","i":13,"k":"plain"},
      {"t":"12:48","i":18,"k":"plain"},{"t":"12:57","i":23,"k":"plain"},{"t":"13:07","i":28,"k":"plain"},
      {"t":"13:17","i":33,"k":"plain"},{"t":"13:30","i":38,"k":"plain"},{"t":"13:36","i":43,"k":"plain"},
      {"t":"13:45","i":48,"k":"plain"},{"t":"13:58","i":53,"k":"plain"},{"t":"14:08","i":58,"k":"plain"},
      {"t":"14:23","i":63,"k":"plain"},{"t":"14:35","i":68,"k":"plain"},{"t":"14:41","i":73,"k":"plain"},
      {"t":"14:58","i":78,"k":"plain"},{"t":"15:16","i":83,"k":"plain"},{"t":"15:30","i":88,"k":"plain"},
      {"t":"15:47","i":93,"k":"plain"},{"t":"15:56","i":98,"k":"plain"},{"t":"16:01","i":103,"k":"plain"},
      {"t":"18:00","i":108,"k":"plain"},{"t":"19:10","i":113,"k":"plain"},{"t":"20:13","i":118,"k":"plain"},
      {"t":"20:39","i":123,"k":"plain"},{"t":"21:08","i":128,"k":"plain"},{"t":"21:53","i":133,"k":"plain"},
      {"t":"3-24 Tu","i":141.0,"k":"date"},{"t":"1:28","i":146,"k":"plain"},{"t":"2:36","i":150,"k":"plain"},
      {"t":"3:13","i":154,"k":"plain"},{"t":"3:51","i":158,"k":"plain"},{"t":"4:23","i":162,"k":"plain"},
      {"t":"4:53","i":166,"k":"plain"},{"t":"5:23","i":170,"k":"plain"},{"t":"5:53","i":174,"k":"plain"},
      {"t":"6:23","i":178,"k":"plain"},{"t":"6:53","i":182,"k":"plain"},{"t":"7:23","i":186,"k":"plain"},
      {"t":"7:53","i":190,"k":"plain"},{"t":"8:23","i":194,"k":"plain"},{"t":"8:53","i":198,"k":"plain"},
      {"t":"9:23","i":202,"k":"plain"},{"t":"7 L","i":208.65,"k":"lock"}
    ],
    "tboxes": [
      {"k":"date","x1":-0.85,"x2":4.65},{"k":"date","x1":138.4,"x2":143.65},{"k":"lock","x1":207.3,"x2":210.0}
    ]
  },
  "vconcat": [
    {
      "width": 1636,
      "height": 716,
      "resolve": {"scale": {"color": "independent", "shape": "independent", "strokeDash": "independent"}},
      "layer": [
        {
          "data": {"name": "lband"},
          "mark": {"type": "area", "color": "#c0d6ea"},
          "encoding": {
            "x": {"field": "i", "type": "quantitative", "scale": {"domain": [-0.85, 203.65], "nice": false, "zero": false, "padding": 0}, "axis": null},
            "y": {"field": "ou", "type": "quantitative", "scale": {"domain": [6553.8, 6707.13], "nice": false, "zero": false}, "axis": null},
            "y2": {"field": "ol"}
          }
        },
        {
          "data": {"name": "iband"},
          "mark": {"type": "area", "color": "#90b4da", "interpolate": "step-after"},
          "encoding": {
            "x": {"field": "i", "type": "quantitative", "scale": {"domain": [-0.85, 203.65], "nice": false, "zero": false, "padding": 0}, "axis": null},
            "y": {"field": "iu", "type": "quantitative", "scale": {"domain": [6553.8, 6707.13], "nice": false, "zero": false}, "axis": null},
            "y2": {"field": "il"}
          }
        },
        {
          "data": {"name": "bars"},
          "transform": [{"filter": "datum.i >= 108"}],
          "mark": {"type": "area", "color": "#c0d6ea", "interpolate": "step"},
          "encoding": {
            "x": {"field": "i", "type": "quantitative", "scale": {"domain": [-0.85, 203.65], "nice": false, "zero": false, "padding": 0}, "axis": null},
            "y": {"field": "lbu", "type": "quantitative", "scale": {"domain": [6553.8, 6707.13], "nice": false, "zero": false}, "axis": null},
            "y2": {"field": "lbl"}
          }
        },
        {
          "data": {"name": "bars"},
          "transform": [{"filter": "datum.i >= 108"}],
          "mark": {"type": "area", "color": "#90b4da", "interpolate": "step"},
          "encoding": {
            "x": {"field": "i", "type": "quantitative", "scale": {"domain": [-0.85, 203.65], "nice": false, "zero": false, "padding": 0}, "axis": null},
            "y": {"field": "mbu", "type": "quantitative", "scale": {"domain": [6553.8, 6707.13], "nice": false, "zero": false}, "axis": null},
            "y2": {"field": "mbl"}
          }
        },
        {
          "data": {"values": [{"x1": -0.64, "x2": 203.65, "y1": 6624, "y2": 6673.5}]},
          "mark": {"type": "rect", "fill": "#fffde6", "blend": "multiply"},
          "encoding": {
            "x": {"field": "x1", "type": "quantitative", "scale": {"domain": [-0.85, 203.65], "nice": false, "zero": false, "padding": 0}, "axis": null},
            "x2": {"field": "x2"},
            "y": {"field": "y1", "type": "quantitative", "scale": {"domain": [6553.8, 6707.13], "nice": false, "zero": false}, "axis": null},
            "y2": {"field": "y2"}
          }
        },
        {
          "data": {"name": "levels"},
          "mark": {"type": "rule", "color": "#909090", "strokeWidth": 1, "blend": "multiply"},
          "encoding": {
            "x": {"datum": -0.64, "type": "quantitative", "scale": {"domain": [-0.85, 203.65], "nice": false, "zero": false, "padding": 0}, "axis": null},
            "x2": {"datum": 199.0},
            "y": {"field": "p", "type": "quantitative", "scale": {"domain": [6553.8, 6707.13], "nice": false, "zero": false}, "axis": null}
          }
        },
        {
          "data": {"values": [{"a": 6624, "b": 6673.5}]},
          "mark": {"type": "rule", "color": "#909090", "strokeWidth": 1, "blend": "multiply"},
          "encoding": {
            "x": {"datum": -0.64, "type": "quantitative", "scale": {"domain": [-0.85, 203.65], "nice": false, "zero": false, "padding": 0}, "axis": null},
            "y": {"field": "a", "type": "quantitative", "scale": {"domain": [6553.8, 6707.13], "nice": false, "zero": false}, "axis": null},
            "y2": {"field": "b"}
          }
        },
        {
          "data": {"name": "bars"},
          "transform": [{"filter": "datum.i >= 108"}, {"fold": ["u2", "l2", "u1", "l1"], "as": ["band", "p"]}],
          "mark": {"type": "line", "color": "#1e8cff", "strokeWidth": 1.2},
          "encoding": {
            "x": {"field": "i", "type": "quantitative", "scale": {"domain": [-0.85, 203.65], "nice": false, "zero": false, "padding": 0}, "axis": null},
            "y": {"field": "p", "type": "quantitative", "scale": {"domain": [6553.8, 6707.13], "nice": false, "zero": false}, "axis": null},
            "detail": {"field": "band"},
            "strokeDash": {"field": "band", "type": "nominal", "scale": {"domain": ["u2", "l2", "u1", "l1"], "range": [[1, 0], [1, 0], [3, 3], [3, 3]]}, "legend": null}
          }
        },
        {
          "data": {"name": "bars"},
          "transform": [{"filter": "datum.i <= 107"}],
          "mark": {"type": "line", "color": "#8c1c40", "strokeWidth": 1.5, "interpolate": "step"},
          "encoding": {
            "x": {"field": "i", "type": "quantitative", "scale": {"domain": [-0.85, 203.65], "nice": false, "zero": false, "padding": 0}, "axis": null},
            "y": {"field": "vw", "type": "quantitative", "scale": {"domain": [6553.8, 6707.13], "nice": false, "zero": false}, "axis": null}
          }
        },
        {
          "data": {"name": "bars"},
          "transform": [{"filter": "datum.i >= 108"}],
          "mark": {"type": "line", "color": "#8c1c40", "strokeWidth": 1.5},
          "encoding": {
            "x": {"field": "i", "type": "quantitative", "scale": {"domain": [-0.85, 203.65], "nice": false, "zero": false, "padding": 0}, "axis": null},
            "y": {"field": "vw", "type": "quantitative", "scale": {"domain": [6553.8, 6707.13], "nice": false, "zero": false}, "axis": null}
          }
        },
        {
          "data": {"values": [{"i": 107.6}, {"i": 107.85}]},
          "mark": {"type": "rule", "color": "#1e8cff", "strokeWidth": 1, "strokeDash": [3, 2]},
          "encoding": {
            "x": {"field": "i", "type": "quantitative", "scale": {"domain": [-0.85, 203.65], "nice": false, "zero": false, "padding": 0}, "axis": null},
            "y": {"datum": 6554, "type": "quantitative", "scale": {"domain": [6553.8, 6707.13], "nice": false, "zero": false}, "axis": null},
            "y2": {"datum": 6703.7}
          }
        },
        {
          "data": {"name": "bars"},
          "mark": {"type": "rule", "strokeWidth": 2},
          "encoding": {
            "x": {"field": "i", "type": "quantitative", "scale": {"domain": [-0.85, 203.65], "nice": false, "zero": false, "padding": 0}, "axis": null},
            "y": {"field": "l", "type": "quantitative", "scale": {"domain": [6553.8, 6707.13], "nice": false, "zero": false}, "axis": null},
            "y2": {"field": "h"},
            "color": {"condition": {"test": "datum.c >= datum.o", "value": "#3c4a8c"}, "value": "#fa8282"}
          }
        },
        {
          "data": {"name": "bars"},
          "mark": {"type": "bar", "size": 6, "strokeWidth": 1},
          "encoding": {
            "x": {"field": "i", "type": "quantitative", "scale": {"domain": [-0.85, 203.65], "nice": false, "zero": false, "padding": 0}, "axis": null},
            "y": {"field": "o", "type": "quantitative", "scale": {"domain": [6553.8, 6707.13], "nice": false, "zero": false}, "axis": null},
            "y2": {"field": "c"},
            "fill": {"condition": {"test": "datum.c >= datum.o", "value": "#00703c"}, "value": "#fa8282"},
            "stroke": {"condition": {"test": "datum.c >= datum.o", "value": "#3c4a8c"}, "value": "#fa8282"}
          }
        },
        {
          "data": {"name": "seg"},
          "mark": {"type": "line", "strokeWidth": 2.2},
          "encoding": {
            "x": {"field": "i", "type": "quantitative", "scale": {"domain": [-0.85, 203.65], "nice": false, "zero": false, "padding": 0}, "axis": null},
            "y": {"field": "p", "type": "quantitative", "scale": {"domain": [6553.8, 6707.13], "nice": false, "zero": false}, "axis": null},
            "detail": {"field": "id"},
            "color": {"field": "type", "type": "nominal", "scale": {"domain": ["g", "r"], "range": ["#00f000", "#c80000"]}, "legend": null}
          }
        },
        {
          "data": {"name": "tri"},
          "mark": {"type": "point", "filled": true, "opacity": 1, "size": 324, "strokeWidth": 0},
          "encoding": {
            "x": {"field": "i", "type": "quantitative", "scale": {"domain": [-0.85, 203.65], "nice": false, "zero": false, "padding": 0}, "axis": null},
            "y": {"field": "p", "type": "quantitative", "scale": {"domain": [6553.8, 6707.13], "nice": false, "zero": false}, "axis": null},
            "shape": {"field": "type", "type": "nominal", "scale": {"domain": ["s", "l"], "range": ["M-0.5,-1L0.5,0L-0.5,1Z", "M0.5,-1L-0.5,0L0.5,1Z"]}, "legend": null},
            "color": {"field": "type", "type": "nominal", "scale": {"domain": ["s", "l"], "range": ["#ff0000", "#ff8282"]}, "legend": null}
          }
        },
        {
          "data": {"name": "levels"},
          "mark": {"type": "text", "align": "right", "baseline": "middle", "color": "#8a8a8a", "fontSize": 11},
          "encoding": {
            "x": {"datum": 203.6, "type": "quantitative", "scale": {"domain": [-0.85, 203.65], "nice": false, "zero": false, "padding": 0}, "axis": null},
            "y": {"field": "p", "type": "quantitative", "scale": {"domain": [6553.8, 6707.13], "nice": false, "zero": false}, "axis": null},
            "text": {"field": "t"}
          }
        },
        {
          "data": {"values": [{"a": 6553.8, "b": 6707.13}]},
          "mark": {"type": "rule", "color": "#c8c8c8"},
          "encoding": {
            "x": {"datum": 203.65, "type": "quantitative", "scale": {"domain": [-0.85, 203.65], "nice": false, "zero": false, "padding": 0}, "axis": null},
            "y": {"field": "a", "type": "quantitative", "scale": {"domain": [6553.8, 6707.13], "nice": false, "zero": false}, "axis": null},
            "y2": {"field": "b"}
          }
        },
        {
          "data": {"name": "pticks"},
          "mark": {"type": "rule", "color": "#9a9a9a"},
          "encoding": {
            "x": {"datum": 203.65, "type": "quantitative", "scale": {"domain": [-0.85, 203.65], "nice": false, "zero": false, "padding": 0}, "axis": null},
            "x2": {"datum": 204.15},
            "y": {"field": "v", "type": "quantitative", "scale": {"domain": [6553.8, 6707.13], "nice": false, "zero": false}, "axis": null}
          }
        },
        {
          "data": {"name": "pticks"},
          "mark": {"type": "text", "align": "left", "baseline": "middle", "color": "#000000", "fontSize": 11},
          "encoding": {
            "x": {"datum": 204.45, "type": "quantitative", "scale": {"domain": [-0.85, 203.65], "nice": false, "zero": false, "padding": 0}, "axis": null},
            "y": {"field": "v", "type": "quantitative", "scale": {"domain": [6553.8, 6707.13], "nice": false, "zero": false}, "axis": null},
            "text": {"field": "t"}
          }
        },
        {
          "data": {"name": "hdrbox"},
          "mark": {"type": "rect"},
          "encoding": {
            "x": {"field": "x1", "type": "quantitative", "scale": {"domain": [-0.85, 203.65], "nice": false, "zero": false, "padding": 0}, "axis": null},
            "x2": {"field": "x2"},
            "y": {"field": "y1", "type": "quantitative", "scale": {"domain": [6553.8, 6707.13], "nice": false, "zero": false}, "axis": null},
            "y2": {"field": "y2"},
            "color": {"field": "k", "type": "nominal", "scale": {"domain": ["gray", "close", "chg", "dchg"], "range": ["#8c8c8c", "#000000", "#00c000", "#ff0000"]}, "legend": null}
          }
        },
        {
          "data": {"name": "hdrtext"},
          "mark": {"type": "text", "align": "left", "baseline": "middle", "fontSize": 11.2},
          "encoding": {
            "x": {"field": "x", "type": "quantitative", "scale": {"domain": [-0.85, 203.65], "nice": false, "zero": false, "padding": 0}, "axis": null},
            "y": {"field": "y", "type": "quantitative", "scale": {"domain": [6553.8, 6707.13], "nice": false, "zero": false}, "axis": null},
            "text": {"field": "t"},
            "color": {"condition": {"test": "datum.k == 'light'", "value": "#ffffff"}, "value": "#000000"}
          }
        },
        {
          "data": {"values": [{"x1": 204.0, "x2": 209.7, "y1": 6625.0, "y2": 6628.45}]},
          "mark": {"type": "rect", "color": "#000000"},
          "encoding": {
            "x": {"field": "x1", "type": "quantitative", "scale": {"domain": [-0.85, 203.65], "nice": false, "zero": false, "padding": 0}, "axis": null},
            "x2": {"field": "x2"},
            "y": {"field": "y1", "type": "quantitative", "scale": {"domain": [6553.8, 6707.13], "nice": false, "zero": false}, "axis": null},
            "y2": {"field": "y2"}
          }
        },
        {
          "data": {"values": [{"x": 204.3, "p": 6626.75, "t": "6626.75"}]},
          "mark": {"type": "text", "align": "left", "baseline": "middle", "color": "#ffffff", "fontSize": 11},
          "encoding": {
            "x": {"field": "x", "type": "quantitative", "scale": {"domain": [-0.85, 203.65], "nice": false, "zero": false, "padding": 0}, "axis": null},
            "y": {"field": "p", "type": "quantitative", "scale": {"domain": [6553.8, 6707.13], "nice": false, "zero": false}, "axis": null},
            "text": {"field": "t"}
          }
        }
      ]
    },
    {
      "width": 1636,
      "height": 256,
      "resolve": {"scale": {"color": "independent", "strokeWidth": "independent"}},
      "layer": [
        {
          "data": {"name": "hl"},
          "mark": {"type": "rule"},
          "encoding": {
            "y": {"field": "v", "type": "quantitative", "scale": {"domain": [-6302, 11233], "nice": false, "zero": false}, "axis": null},
            "color": {"field": "t", "type": "nominal", "scale": {"domain": ["grid", "zero"], "range": ["#3d7f7c", "#ff0000"]}, "legend": null},
            "strokeWidth": {"field": "t", "type": "ordinal", "scale": {"domain": ["grid", "zero"], "range": [1.3, 2.6]}, "legend": null}
          }
        },
        {
          "data": {"values": [{"a": 11233, "b": -4932}]},
          "mark": {"type": "rule", "color": "#c8c8c8"},
          "encoding": {
            "x": {"datum": 203.65, "type": "quantitative", "scale": {"domain": [-0.85, 203.65], "nice": false, "zero": false, "padding": 0}, "axis": null},
            "y": {"field": "a", "type": "quantitative", "scale": {"domain": [-6302, 11233], "nice": false, "zero": false}, "axis": null},
            "y2": {"field": "b"}
          }
        },
        {
          "data": {"values": [{"a": -4932}]},
          "mark": {"type": "rule", "color": "#d4d4d4"},
          "encoding": {
            "y": {"field": "a", "type": "quantitative", "scale": {"domain": [-6302, 11233], "nice": false, "zero": false}, "axis": null}
          }
        },
        {
          "data": {"name": "dticks"},
          "mark": {"type": "rule", "color": "#9a9a9a"},
          "encoding": {
            "x": {"datum": 203.65, "type": "quantitative", "scale": {"domain": [-0.85, 203.65], "nice": false, "zero": false, "padding": 0}, "axis": null},
            "x2": {"datum": 204.15},
            "y": {"field": "v", "type": "quantitative", "scale": {"domain": [-6302, 11233], "nice": false, "zero": false}, "axis": null}
          }
        },
        {
          "data": {"name": "dticks"},
          "mark": {"type": "text", "align": "left", "baseline": "middle", "color": "#000000", "fontSize": 11},
          "encoding": {
            "x": {"datum": 204.45, "type": "quantitative", "scale": {"domain": [-0.85, 203.65], "nice": false, "zero": false, "padding": 0}, "axis": null},
            "y": {"field": "v", "type": "quantitative", "scale": {"domain": [-6302, 11233], "nice": false, "zero": false}, "axis": null},
            "text": {"field": "t"}
          }
        },
        {
          "data": {"name": "bars"},
          "transform": [{"filter": "datum.i >= 108"}],
          "mark": {"type": "rule", "color": "#000000", "strokeWidth": 1},
          "encoding": {
            "x": {"field": "i", "type": "quantitative", "scale": {"domain": [-0.85, 203.65], "nice": false, "zero": false, "padding": 0}, "axis": null},
            "y": {"field": "dlo", "type": "quantitative", "scale": {"domain": [-6302, 11233], "nice": false, "zero": false}, "axis": null},
            "y2": {"field": "dhi"}
          }
        },
        {
          "data": {"name": "bars"},
          "transform": [{"filter": "datum.i >= 108"}],
          "mark": {"type": "bar", "size": 6, "stroke": "#000000", "strokeWidth": 1},
          "encoding": {
            "x": {"field": "i", "type": "quantitative", "scale": {"domain": [-0.85, 203.65], "nice": false, "zero": false, "padding": 0}, "axis": null},
            "y": {"field": "dop", "type": "quantitative", "scale": {"domain": [-6302, 11233], "nice": false, "zero": false}, "axis": null},
            "y2": {"field": "dcl"},
            "fill": {"condition": {"test": "datum.dcl >= datum.dop", "value": "#ffffff"}, "value": "#e60000"}
          }
        },
        {
          "data": {"name": "lowhdr"},
          "mark": {"type": "text", "align": "left", "baseline": "middle", "fontSize": 11.6},
          "encoding": {
            "x": {"field": "x", "type": "quantitative", "scale": {"domain": [-0.85, 203.65], "nice": false, "zero": false, "padding": 0}, "axis": null},
            "y": {"datum": 10685, "type": "quantitative", "scale": {"domain": [-6302, 11233], "nice": false, "zero": false}, "axis": null},
            "text": {"field": "t"},
            "color": {"condition": {"test": "datum.k == 'neg'", "value": "#ff0000"}, "value": "#000000"}
          }
        },
        {
          "data": {"name": "tboxes"},
          "mark": {"type": "rect"},
          "encoding": {
            "x": {"field": "x1", "type": "quantitative", "scale": {"domain": [-0.85, 203.65], "nice": false, "zero": false, "padding": 0}, "axis": null},
            "x2": {"field": "x2"},
            "y": {"datum": -5138, "type": "quantitative", "scale": {"domain": [-6302, 11233], "nice": false, "zero": false}, "axis": null},
            "y2": {"datum": -6302},
            "color": {"field": "k", "type": "nominal", "scale": {"domain": ["date", "lock"], "range": ["#000000", "#00c000"]}, "legend": null}
          }
        },
        {
          "data": {"name": "tlabels"},
          "mark": {"type": "text", "align": "center", "baseline": "middle", "fontSize": 11},
          "encoding": {
            "x": {"field": "i", "type": "quantitative", "scale": {"domain": [-0.85, 203.65], "nice": false, "zero": false, "padding": 0}, "axis": null},
            "y": {"datum": -5720, "type": "quantitative", "scale": {"domain": [-6302, 11233], "nice": false, "zero": false}, "axis": null},
            "text": {"field": "t"},
            "color": {"condition": {"test": "datum.k == 'date'", "value": "#ffffff"}, "value": "#000000"}
          }
        }
      ]
    }
  ]
}
